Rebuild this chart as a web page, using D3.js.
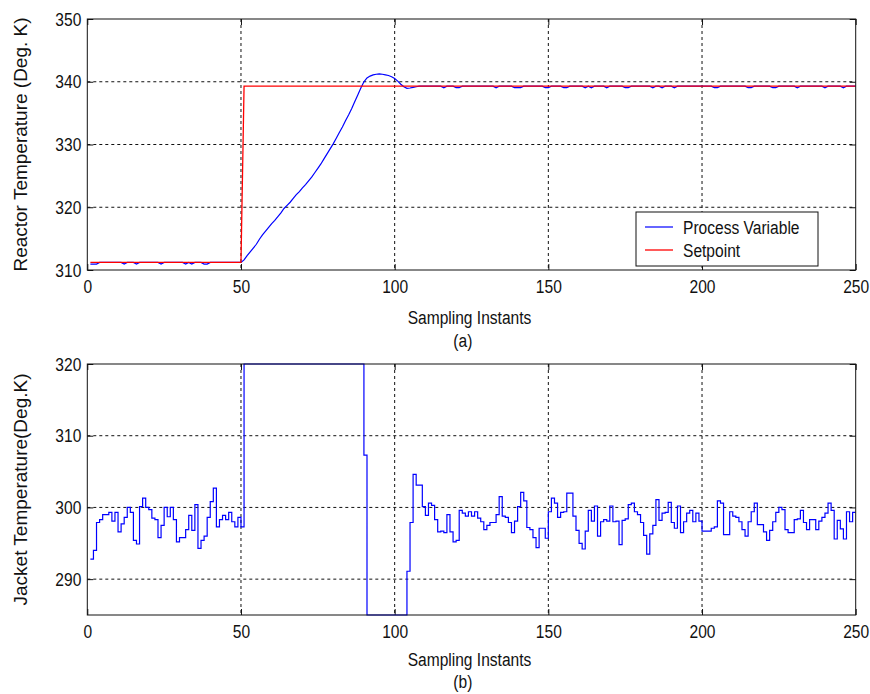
<!DOCTYPE html>
<html>
<head>
<meta charset="utf-8">
<script src="https://cdn.jsdelivr.net/npm/d3@7"></script>
<style>
  html, body { margin: 0; padding: 0; background: #fff; }
  svg { display: block; }
  text { font-family: "Liberation Sans", Arial, Helvetica, sans-serif; fill: #111; }
</style>
</head>
<body>
<svg id="chart" width="870" height="694"></svg>
<script>
// ---------------- DATA ----------------
const xTicks = [0, 50, 100, 150, 200, 250];
const yTicksTop = [310, 320, 330, 340, 350];
const yTicksBottom = [290, 300, 310, 320];
const xGrid = [50, 100, 150, 200];
const yGridTop = [320, 330, 340];
const yGridBottom = [290, 300, 310];

// sampling instants 1..250
const samples = d3.range(1, 251);

// Setpoint breakpoints [instant, K]
const setpointPts = [[1, 311.2], [50, 311.2], [51, 339.3], [250, 339.3]];

// Reactor temperature (process variable), instants 1..250
const processVar = [
  310.95, 310.95, 310.95, 311.2, 311.2, 311.2, 311.2, 311.2, 311.2, 311.2,
  311.2, 310.95, 311.2, 311.2, 311.2, 310.95, 311.2, 311.2, 311.2, 311.2,
  311.2, 311.2, 311.2, 310.95, 311.2, 311.2, 311.2, 311.2, 311.2, 311.2,
  311.2, 310.95, 311.2, 310.95, 311.2, 311.2, 311.2, 310.95, 310.95, 311.2,
  311.2, 311.2, 311.2, 311.2, 311.2, 311.2, 311.2, 311.2, 311.2, 311.2,
  311.6, 312.3, 312.9, 313.5, 314.1, 314.9, 315.6, 316.2, 316.8, 317.4,
  317.9, 318.5, 319.1, 319.8, 320.3, 320.8, 321.4, 322.0, 322.5, 323.1,
  323.6, 324.2, 324.8, 325.5, 326.2, 326.9, 327.7, 328.5, 329.3, 330.1,
  331.0, 331.9, 332.8, 333.8, 334.7, 335.7, 336.8, 337.9, 339.0, 340.0,
  340.6, 340.9, 341.1, 341.2, 341.25, 341.2, 341.1, 341.0, 340.8, 340.5,
  340.1, 339.6, 339.2, 338.95, 339.0, 339.1, 339.2, 339.3, 339.3, 339.3,
  339.3, 339.3, 339.3, 339.3, 339.3, 339.05, 339.3, 339.3, 339.3, 339.05,
  339.05, 339.3, 339.3, 339.3, 339.3, 339.3, 339.3, 339.3, 339.3, 339.3,
  339.3, 339.3, 339.05, 339.3, 339.3, 339.3, 339.3, 339.3, 339.05, 339.05,
  339.05, 339.3, 339.3, 339.3, 339.3, 339.3, 339.3, 339.3, 339.05, 339.05,
  339.3, 339.3, 339.3, 339.3, 339.05, 339.05, 339.3, 339.3, 339.3, 339.3,
  339.3, 339.05, 339.3, 339.05, 339.3, 339.3, 339.3, 339.3, 339.05, 339.3,
  339.3, 339.3, 339.3, 339.3, 339.05, 339.05, 339.3, 339.3, 339.3, 339.3,
  339.3, 339.3, 339.3, 339.05, 339.3, 339.3, 339.05, 339.3, 339.3, 339.3,
  339.05, 339.3, 339.3, 339.3, 339.3, 339.3, 339.3, 339.3, 339.3, 339.3,
  339.3, 339.3, 339.3, 339.05, 339.05, 339.3, 339.3, 339.3, 339.3, 339.3,
  339.3, 339.3, 339.3, 339.3, 339.05, 339.05, 339.3, 339.3, 339.3, 339.3,
  339.3, 339.3, 339.05, 339.05, 339.3, 339.3, 339.3, 339.3, 339.3, 339.3,
  339.05, 339.3, 339.3, 339.3, 339.3, 339.3, 339.3, 339.3, 339.3, 339.05,
  339.3, 339.3, 339.3, 339.3, 339.3, 339.05, 339.3, 339.3, 339.3, 339.3
];

// Jacket temperature, instants 1..250 (held between samples)
const jacketTemp = [
  292.8, 294.0, 297.9, 298.3, 299.0, 299.0, 299.3, 298.1, 299.3, 296.6,
  297.7, 298.6, 300.0, 299.3, 295.4, 294.9, 300.1, 301.3, 300.0, 299.7,
  298.5, 298.3, 295.8, 297.5, 300.0, 298.7, 300.0, 298.3, 295.2, 295.8,
  295.8, 296.9, 298.9, 296.8, 300.4, 294.3, 295.4, 296.0, 298.6, 300.8,
  302.7, 297.3, 298.3, 298.9, 298.3, 299.3, 298.0, 297.3, 298.6, 297.3,
  320, 320, 320, 320, 320, 320, 320, 320, 320, 320,
  320, 320, 320, 320, 320, 320, 320, 320, 320, 320,
  320, 320, 320, 320, 320, 320, 320, 320, 320, 320,
  320, 320, 320, 320, 320, 320, 320, 320, 320, 307.3,
  285, 285, 285, 285, 285, 285, 285, 285, 285, 285,
  285, 285, 285, 291.1, 297.9, 304.6, 303.1, 303.1, 300.1, 298.9,
  300.6, 300.3, 298.3, 296.6, 296.7, 296.5, 299.0, 296.6, 295.2, 295.4,
  299.6, 299.2, 298.8, 299.4, 298.8, 299.4, 298.5, 298.0, 296.9, 297.5,
  297.9, 297.9, 299.0, 301.5, 298.8, 298.6, 297.9, 296.5, 298.1, 300.1,
  302.1, 300.9, 297.2, 296.9, 295.8, 294.4, 297.1, 297.1, 295.7, 299.4,
  301.3, 300.6, 298.6, 299.3, 299.4, 302.0, 302.0, 298.8, 296.8, 295.0,
  294.2, 296.7, 299.6, 298.1, 300.2, 296.0, 298.0, 298.3, 298.1, 300.2,
  298.0, 298.1, 294.8, 298.2, 298.4, 300.4, 300.6, 299.4, 299.0, 297.9,
  296.1, 293.5, 296.3, 297.5, 301.1, 298.2, 299.2, 299.3, 300.7, 297.9,
  297.1, 300.2, 296.5, 298.0, 299.2, 299.6, 298.0, 299.2, 298.1, 296.7,
  296.7, 296.7, 297.1, 297.3, 300.9, 300.6, 296.2, 296.2, 299.4, 298.8,
  298.6, 298.0, 296.9, 296.0, 298.0, 299.4, 300.6, 297.6, 297.6, 296.6,
  295.4, 296.8, 298.0, 299.3, 300.0, 299.7, 296.9, 296.5, 296.5, 298.3,
  298.4, 299.6, 297.9, 296.9, 298.3, 298.3, 296.9, 298.1, 298.6, 299.2,
  300.6, 299.6, 295.6, 298.2, 297.0, 295.6, 299.4, 298.0, 299.3, 299.3
];

const labels = {
  xLabel: "Sampling Instants",
  topY: "Reactor Temperature (Deg. K)",
  bottomY: "Jacket Temperature(Deg.K)",
  topCaption: "(a)",
  bottomCaption: "(b)",
  legendPV: "Process Variable",
  legendSP: "Setpoint"
};

// ---------------- LAYOUT ----------------
const svg = d3.select("#chart");
const FS = 19;          // font size
const SX = 0.82;        // horizontal condensing of MATLAB-like font
const left = 87.3, right = 855.7;
const panels = [
  { top: 19, bottom: 270, domain: [310, 350], yTicks: yTicksTop, yGrid: yGridTop, ylabel: labels.topY,
    caption: labels.topCaption, xlabBase: 324, capBase: 347 },
  { top: 364, bottom: 615, domain: [285, 320], yTicks: yTicksBottom, yGrid: yGridBottom, ylabel: labels.bottomY,
    caption: labels.bottomCaption, xlabBase: 665.5, capBase: 688 }
];

const x = d3.scaleLinear().domain([0, 250]).range([left, right]);

function condensedText(g, tx, ty, str, anchor) {
  return g.append("text")
    .attr("transform", `translate(${tx},${ty}) scale(${SX},1)`)
    .attr("text-anchor", anchor || "middle")
    .style("font-size", FS + "px")
    .text(str);
}

panels.forEach((p, idx) => {
  const y = d3.scaleLinear().domain(p.domain).range([p.bottom, p.top]);
  const g = svg.append("g");

  const clipId = "clip" + idx;
  svg.append("defs").append("clipPath").attr("id", clipId)
    .append("rect").attr("x", left).attr("y", p.top - 1)
    .attr("width", right - left).attr("height", p.bottom - p.top + 2);

  // grid
  g.append("g").selectAll("line").data(xGrid).join("line")
    .attr("x1", d => x(d)).attr("x2", d => x(d))
    .attr("y1", p.top).attr("y2", p.bottom)
    .attr("stroke", "#111").attr("stroke-width", 1).attr("stroke-dasharray", "3,3");
  g.append("g").selectAll("line").data(p.yGrid).join("line")
    .attr("x1", left).attr("x2", right)
    .attr("y1", d => y(d)).attr("y2", d => y(d))
    .attr("stroke", "#111").attr("stroke-width", 1).attr("stroke-dasharray", "3,3");

  // axes
  const ax = g.append("g").attr("transform", `translate(0,${p.bottom})`)
    .call(d3.axisBottom(x).tickValues(xTicks).tickSizeInner(-6).tickSizeOuter(0).tickPadding(10).tickFormat(d3.format("d")));
  const axT = g.append("g").attr("transform", `translate(0,${p.top})`)
    .call(d3.axisTop(x).tickValues(xTicks).tickSizeInner(-6).tickSizeOuter(0).tickFormat(""));
  const ay = g.append("g").attr("transform", `translate(${left},0)`)
    .call(d3.axisLeft(y).tickValues(p.yTicks).tickSizeInner(-6).tickSizeOuter(0).tickPadding(6 / SX).tickFormat(d3.format("d")));
  const ayR = g.append("g").attr("transform", `translate(${right},0)`)
    .call(d3.axisRight(y).tickValues(p.yTicks).tickSizeInner(-6).tickSizeOuter(0).tickFormat(""));
  [ax, axT, ay, ayR].forEach(a => {
    a.select(".domain").remove();
    a.selectAll(".tick line").attr("stroke", "#111");
    a.selectAll("text").style("font-size", FS + "px").style("font-family", null).attr("fill", "#111")
      .attr("transform", `scale(${SX},1)`);
  });

  // data
  const plot = g.append("g").attr("clip-path", `url(#${clipId})`);
  if (idx === 0) {
    const line = d3.line().x(d => x(d[0])).y(d => y(d[1]));
    plot.append("path").datum(samples.map((k, i) => [k, processVar[i]]))
      .attr("d", line).attr("fill", "none").attr("stroke", "#0000ff").attr("stroke-width", 1.2);
    plot.append("path").datum(setpointPts)
      .attr("d", line).attr("fill", "none").attr("stroke", "#ff0000").attr("stroke-width", 1.3);
  } else {
    const stairs = d3.line().x(d => x(d[0])).y(d => y(d[1])).curve(d3.curveStepAfter);
    plot.append("path").datum(samples.map((k, i) => [k, jacketTemp[i]]))
      .attr("d", stairs).attr("fill", "none").attr("stroke", "#0000ff").attr("stroke-width", 1.2);
  }

  // box
  g.append("rect").attr("x", left).attr("y", p.top)
    .attr("width", right - left).attr("height", p.bottom - p.top)
    .attr("fill", "none").attr("stroke", "#111").attr("stroke-width", 1);

  // labels
  condensedText(g, 469.5, p.xlabBase, labels.xLabel);
  condensedText(g, 462.8, p.capBase, p.caption);
  g.append("text")
    .attr("transform", `translate(26.5,${(p.top + p.bottom) / 2}) rotate(-90)`)
    .attr("text-anchor", "middle")
    .style("font-size", FS + "px")
    .text(p.ylabel);
});

// legend (top panel)
const lg = svg.append("g");
lg.append("rect").attr("x", 636).attr("y", 212).attr("width", 182).attr("height", 54)
  .attr("fill", "#fff").attr("stroke", "#111").attr("stroke-width", 1);
lg.append("line").attr("x1", 645).attr("x2", 673).attr("y1", 227).attr("y2", 227)
  .attr("stroke", "#0000ff").attr("stroke-width", 1.2);
lg.append("line").attr("x1", 645).attr("x2", 673).attr("y1", 250).attr("y2", 250)
  .attr("stroke", "#ff0000").attr("stroke-width", 1.3);
condensedText(lg, 683, 233.5, labels.legendPV, "start");
condensedText(lg, 683, 257, labels.legendSP, "start");
</script>
</body>
</html>
